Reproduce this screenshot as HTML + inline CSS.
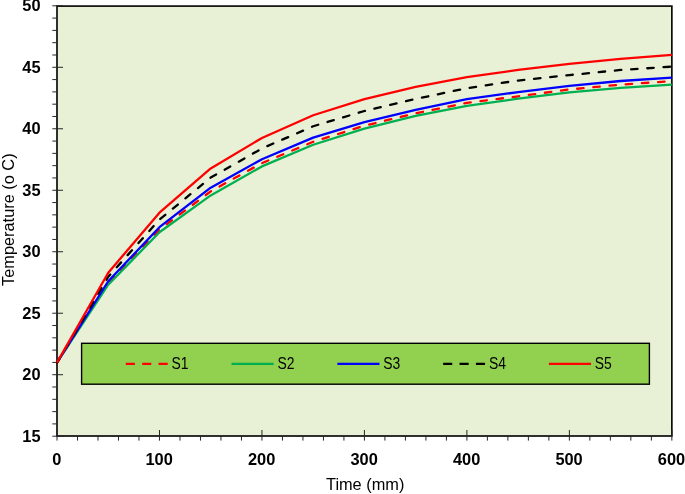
<!DOCTYPE html>
<html lang="en">
<head>
<meta charset="utf-8">
<title>Temperature vs Time</title>
<style>
html,body{margin:0;padding:0;background:#ffffff;}
body{width:685px;height:494px;overflow:hidden;}
svg{display:block;}
text{font-family:"Liberation Sans",sans-serif;fill:#000000;}
.tick{font-weight:bold;font-size:16.4px;}
.ttl{font-size:16.35px;}
.leg{font-size:16px;}
</style>
</head>
<body>
<svg width="685" height="494" viewBox="0 0 685 494">
<rect x="0" y="0" width="685" height="494" fill="#ffffff"/>
<rect x="57.0" y="6.1" width="614.85" height="429.9" fill="#E8F1D5" stroke="#0d0d0d" stroke-width="1.7"/>
<g stroke="#262626" stroke-width="1" fill="none">
<line x1="52.30" y1="436.20" x2="63.00" y2="436.20"/>
<line x1="52.30" y1="423.90" x2="57.00" y2="423.90"/>
<line x1="52.30" y1="411.61" x2="57.00" y2="411.61"/>
<line x1="52.30" y1="399.31" x2="57.00" y2="399.31"/>
<line x1="52.30" y1="387.01" x2="57.00" y2="387.01"/>
<line x1="52.30" y1="374.71" x2="63.00" y2="374.71"/>
<line x1="52.30" y1="362.42" x2="57.00" y2="362.42"/>
<line x1="52.30" y1="350.12" x2="57.00" y2="350.12"/>
<line x1="52.30" y1="337.82" x2="57.00" y2="337.82"/>
<line x1="52.30" y1="325.53" x2="57.00" y2="325.53"/>
<line x1="52.30" y1="313.23" x2="63.00" y2="313.23"/>
<line x1="52.30" y1="300.93" x2="57.00" y2="300.93"/>
<line x1="52.30" y1="288.63" x2="57.00" y2="288.63"/>
<line x1="52.30" y1="276.34" x2="57.00" y2="276.34"/>
<line x1="52.30" y1="264.04" x2="57.00" y2="264.04"/>
<line x1="52.30" y1="251.74" x2="63.00" y2="251.74"/>
<line x1="52.30" y1="239.45" x2="57.00" y2="239.45"/>
<line x1="52.30" y1="227.15" x2="57.00" y2="227.15"/>
<line x1="52.30" y1="214.85" x2="57.00" y2="214.85"/>
<line x1="52.30" y1="202.55" x2="57.00" y2="202.55"/>
<line x1="52.30" y1="190.26" x2="63.00" y2="190.26"/>
<line x1="52.30" y1="177.96" x2="57.00" y2="177.96"/>
<line x1="52.30" y1="165.66" x2="57.00" y2="165.66"/>
<line x1="52.30" y1="153.37" x2="57.00" y2="153.37"/>
<line x1="52.30" y1="141.07" x2="57.00" y2="141.07"/>
<line x1="52.30" y1="128.77" x2="63.00" y2="128.77"/>
<line x1="52.30" y1="116.47" x2="57.00" y2="116.47"/>
<line x1="52.30" y1="104.18" x2="57.00" y2="104.18"/>
<line x1="52.30" y1="91.88" x2="57.00" y2="91.88"/>
<line x1="52.30" y1="79.58" x2="57.00" y2="79.58"/>
<line x1="52.30" y1="67.29" x2="63.00" y2="67.29"/>
<line x1="52.30" y1="54.99" x2="57.00" y2="54.99"/>
<line x1="52.30" y1="42.69" x2="57.00" y2="42.69"/>
<line x1="52.30" y1="30.39" x2="57.00" y2="30.39"/>
<line x1="52.30" y1="18.10" x2="57.00" y2="18.10"/>
<line x1="52.30" y1="5.80" x2="63.00" y2="5.80"/>
<line x1="57.00" y1="430.00" x2="57.00" y2="440.60"/>
<line x1="77.50" y1="436.00" x2="77.50" y2="440.60"/>
<line x1="97.99" y1="436.00" x2="97.99" y2="440.60"/>
<line x1="118.48" y1="436.00" x2="118.48" y2="440.60"/>
<line x1="138.98" y1="436.00" x2="138.98" y2="440.60"/>
<line x1="159.47" y1="430.00" x2="159.47" y2="440.60"/>
<line x1="179.97" y1="436.00" x2="179.97" y2="440.60"/>
<line x1="200.47" y1="436.00" x2="200.47" y2="440.60"/>
<line x1="220.96" y1="436.00" x2="220.96" y2="440.60"/>
<line x1="241.46" y1="436.00" x2="241.46" y2="440.60"/>
<line x1="261.95" y1="430.00" x2="261.95" y2="440.60"/>
<line x1="282.44" y1="436.00" x2="282.44" y2="440.60"/>
<line x1="302.94" y1="436.00" x2="302.94" y2="440.60"/>
<line x1="323.44" y1="436.00" x2="323.44" y2="440.60"/>
<line x1="343.93" y1="436.00" x2="343.93" y2="440.60"/>
<line x1="364.43" y1="430.00" x2="364.43" y2="440.60"/>
<line x1="384.92" y1="436.00" x2="384.92" y2="440.60"/>
<line x1="405.42" y1="436.00" x2="405.42" y2="440.60"/>
<line x1="425.91" y1="436.00" x2="425.91" y2="440.60"/>
<line x1="446.40" y1="436.00" x2="446.40" y2="440.60"/>
<line x1="466.90" y1="430.00" x2="466.90" y2="440.60"/>
<line x1="487.39" y1="436.00" x2="487.39" y2="440.60"/>
<line x1="507.89" y1="436.00" x2="507.89" y2="440.60"/>
<line x1="528.38" y1="436.00" x2="528.38" y2="440.60"/>
<line x1="548.88" y1="436.00" x2="548.88" y2="440.60"/>
<line x1="569.38" y1="430.00" x2="569.38" y2="440.60"/>
<line x1="589.87" y1="436.00" x2="589.87" y2="440.60"/>
<line x1="610.37" y1="436.00" x2="610.37" y2="440.60"/>
<line x1="630.86" y1="436.00" x2="630.86" y2="440.60"/>
<line x1="651.36" y1="436.00" x2="651.36" y2="440.60"/>
<line x1="671.85" y1="430.00" x2="671.85" y2="440.60"/>
</g>
<g fill="none" stroke-width="2.3" stroke-linejoin="round">
<polyline points="57.00,362.58 108.24,282.61 159.47,229.54 210.71,191.33 261.95,163.07 313.19,141.81 364.43,125.72 415.66,113.27 466.90,102.78 518.14,96.35 569.38,89.47 620.61,84.67 671.85,81.11" stroke="#FF0000" stroke-dasharray="6.5 9.75" stroke-dashoffset="1.0" stroke-linecap="round"/>
<polyline points="57.00,362.58 108.24,284.70 159.47,232.24 210.71,195.38 261.95,166.39 313.19,144.76 364.43,128.54 415.66,115.97 466.90,105.97 518.14,98.68 569.38,92.29 620.61,87.87 671.85,84.55" stroke="#00B050"/>
<polyline points="57.00,362.58 108.24,281.26 159.47,227.20 210.71,187.64 261.95,159.26 313.19,137.64 364.43,122.03 415.66,109.83 466.90,99.22 518.14,92.05 569.38,85.78 620.61,80.99 671.85,77.67" stroke="#0000FF"/>
<polyline points="57.00,362.58 108.24,276.74 159.47,219.61 210.71,177.59 261.95,148.47 313.19,126.23 364.43,111.00 415.66,98.91 466.90,88.18 518.14,80.52 569.38,75.11 620.61,69.95 671.85,66.64" stroke="#000000" stroke-dasharray="6.5 9.75" stroke-dashoffset="1.0" stroke-linecap="round"/>
<polyline points="57.00,362.58 108.24,272.75 159.47,212.67 210.71,168.44 261.95,137.97 313.19,115.24 364.43,99.03 415.66,86.94 466.90,77.07 518.14,69.90 569.38,63.88 620.61,58.84 671.85,54.91" stroke="#FF0000"/>
</g>
<rect x="81.6" y="343.3" width="567.8" height="40.9" fill="#92D050" stroke="#000000" stroke-width="1.4"/>
<line x1="125.80" y1="363.8" x2="167.90" y2="363.8" stroke="#FF0000" stroke-width="2.3" stroke-dasharray="9.1 7.3"/>
<text class="leg" x="171.60" y="369.2" textLength="17" lengthAdjust="spacingAndGlyphs">S1</text>
<line x1="231.58" y1="363.8" x2="273.68" y2="363.8" stroke="#00B050" stroke-width="2.3"/>
<text class="leg" x="277.38" y="369.2" textLength="17" lengthAdjust="spacingAndGlyphs">S2</text>
<line x1="337.36" y1="363.8" x2="379.46" y2="363.8" stroke="#0000FF" stroke-width="2.3"/>
<text class="leg" x="383.16" y="369.2" textLength="17" lengthAdjust="spacingAndGlyphs">S3</text>
<line x1="443.14" y1="363.8" x2="485.24" y2="363.8" stroke="#000000" stroke-width="2.3" stroke-dasharray="9.1 7.3"/>
<text class="leg" x="488.94" y="369.2" textLength="17" lengthAdjust="spacingAndGlyphs">S4</text>
<line x1="548.92" y1="363.8" x2="591.02" y2="363.8" stroke="#FF0000" stroke-width="2.3"/>
<text class="leg" x="594.72" y="369.2" textLength="17" lengthAdjust="spacingAndGlyphs">S5</text>
<text class="tick" x="40.6" y="441.50" text-anchor="end">15</text>
<text class="tick" x="40.6" y="380.01" text-anchor="end">20</text>
<text class="tick" x="40.6" y="318.53" text-anchor="end">25</text>
<text class="tick" x="40.6" y="257.04" text-anchor="end">30</text>
<text class="tick" x="40.6" y="195.56" text-anchor="end">35</text>
<text class="tick" x="40.6" y="134.07" text-anchor="end">40</text>
<text class="tick" x="40.6" y="72.59" text-anchor="end">45</text>
<text class="tick" x="40.6" y="11.10" text-anchor="end">50</text>
<text class="tick" x="56.70" y="465" text-anchor="middle">0</text>
<text class="tick" x="159.17" y="465" text-anchor="middle">100</text>
<text class="tick" x="261.65" y="465" text-anchor="middle">200</text>
<text class="tick" x="364.12" y="465" text-anchor="middle">300</text>
<text class="tick" x="466.60" y="465" text-anchor="middle">400</text>
<text class="tick" x="569.08" y="465" text-anchor="middle">500</text>
<text class="tick" x="671.55" y="465" text-anchor="middle">600</text>
<text class="ttl" x="365.2" y="490.2" text-anchor="middle">Time (mm)</text>
<text class="ttl" transform="translate(13.5,219.7) rotate(-90)" text-anchor="middle">Temperature (o C)</text>
</svg>
</body>
</html>
